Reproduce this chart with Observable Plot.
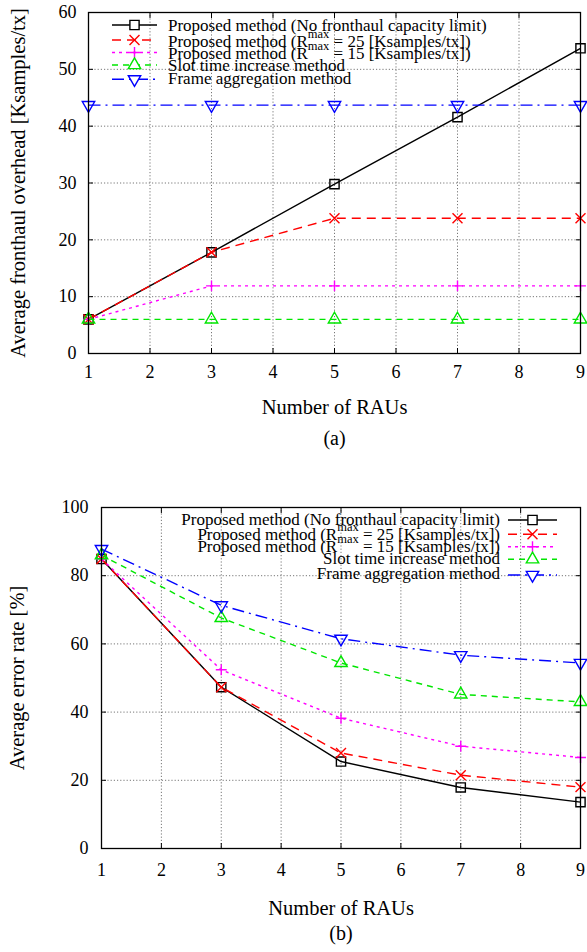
<!DOCTYPE html>
<html><head><meta charset="utf-8">
<script src="https://cdn.jsdelivr.net/npm/d3@7"></script>
<script src="https://cdn.jsdelivr.net/npm/@observablehq/plot@0.6"></script>
<style>
body{margin:0;background:#fff;}
#wrap{width:587px;}
#wrap svg{display:block;}
</style></head><body><div id="wrap"></div>
<script>
// ---- data ----
const raus = [1, 3, 5, 7, 9];
const xTicks = [1, 2, 3, 4, 5, 6, 7, 8, 9];
const overheadTicks = [0, 10, 20, 30, 40, 50, 60];
const errorTicks = [0, 20, 40, 60, 80, 100];

const legendLabels = [
  "Proposed method (No fronthaul capacity limit)",
  "Proposed method (R^{max} = 25 [Ksamples/tx])",
  "Proposed method (R^{max} = 15 [Ksamples/tx])",
  "Slot time increase method",
  "Frame aggregation method"
];

// (a) Average fronthaul overhead [Ksamples/tx]
const overheadNoLimit = [6.0, 17.8, 29.8, 41.6, 53.7];
const overheadR25     = [6.0, 17.8, 23.8, 23.8, 23.8];
const overheadR15     = [6.0, 11.9, 11.9, 11.9, 11.9];
const overheadSlot    = [6.0, 6.0, 6.0, 6.0, 6.0];
const overheadFrame   = [43.7, 43.7, 43.7, 43.7, 43.7];

// (b) Average error rate [%]
const errorNoLimit = [84.9, 47.3, 25.5, 17.9, 13.6];
const errorR25     = [84.9, 47.3, 28.0, 21.5, 18.0];
const errorR15     = [84.9, 52.4, 38.2, 30.0, 26.7];
const errorSlot    = [86.0, 67.6, 54.4, 45.2, 43.0];
const errorFrame   = [87.8, 71.3, 61.5, 56.7, 54.4];

// ---- styles ----
const FONT = '"Liberation Serif","DejaVu Serif","Times New Roman",serif';
const styles = [
  {color: "#000000", dash: null,        symbol: "square",   r: 5.2, rotate: 0},
  {color: "#ff0000", dash: "9,6",       symbol: "times",    r: 4.6, rotate: 0},
  {color: "#ff00ff", dash: "3,4",       symbol: "plus",     r: 3.6, rotate: 0},
  {color: "#00e600", dash: "6,5",       symbol: "triangle", r: 4.6, rotate: 0},
  {color: "#0000ff", dash: "12,5,2,5",  symbol: "triangle", r: 4.6, rotate: 180}
];
const d3Symbols = {square: d3.symbolSquare, times: d3.symbolTimes, plus: d3.symbolPlus, triangle: d3.symbolTriangle};

function rows(seriesValues) {
  return seriesValues.map(vals => raus.map((x, i) => ({x, y: vals[i]})));
}

function seriesMarks(series) {
  const out = [];
  series.forEach((data, s) => {
    const st = styles[s];
    out.push(Plot.line(data, {x: "x", y: "y", stroke: st.color, strokeWidth: 1.4,
      strokeDasharray: st.dash, strokeLinecap: "butt"}));
    out.push(Plot.dot(data, {x: "x", y: "y", symbol: st.symbol, r: st.r, stroke: st.color,
      fill: "none", strokeWidth: 1.4, rotate: st.rotate}));
  });
  return out;
}

function makeChart(cfg) {
  const tickStyle = {stroke: "black", strokeWidth: 1};
  const chart = Plot.plot({
    width: 587, height: 476,
    marginLeft: cfg.marginLeft, marginRight: 7, marginTop: cfg.marginTop, marginBottom: cfg.marginBottom,
    x: {domain: [1, 9]},
    y: {domain: cfg.yDomain},
    style: {fontFamily: FONT, fontSize: "18px", color: "black", background: "white", overflow: "visible"},
    marks: [
      Plot.gridX(xTicks, {stroke: "#777", strokeOpacity: 1, strokeDasharray: "1.2,2"}),
      Plot.gridY(cfg.yTicks, {stroke: "#777", strokeOpacity: 1, strokeDasharray: "1.2,2"}),
      Plot.axisX(xTicks, {anchor: "bottom", tickSize: 0, tickPadding: cfg.xTickPad, fontSize: 18, label: null}),
      Plot.axisX(xTicks, {anchor: "bottom", tickSize: -5, tickFormat: () => "", label: null, ...tickStyle}),
      Plot.axisX(xTicks, {anchor: "top", tickSize: -5, tickFormat: () => "", label: null, ...tickStyle}),
      Plot.axisY(cfg.yTicks, {anchor: "left", tickSize: 0, tickPadding: cfg.yTickPad, fontSize: 18, label: null}),
      Plot.axisY(cfg.yTicks, {anchor: "left", tickSize: -5, tickFormat: () => "", label: null, ...tickStyle}),
      Plot.axisY(cfg.yTicks, {anchor: "right", tickSize: -5, tickFormat: () => "", label: null, ...tickStyle}),
      ...seriesMarks(cfg.series),
      Plot.frame({stroke: "black", strokeWidth: 1.3}),
      Plot.text(["Number of RAUs"], {frameAnchor: "bottom", dy: cfg.xLabelDy, lineAnchor: "middle", fontSize: 20.5, text: d => d}),
      Plot.text([cfg.caption], {frameAnchor: "bottom", dy: 85, lineAnchor: "middle", fontSize: 20, text: d => d}),
      Plot.text([cfg.yLabel], {frameAnchor: "left", textAnchor: "middle", dx: cfg.yLabelDx, rotate: -90, lineAnchor: "middle", fontSize: 20.5, text: d => d})
    ]
  });
  drawLegend(chart, cfg.legend);
  return chart;
}

function drawLegend(svg, L) {
  const g = d3.select(svg).append("g").attr("font-family", FONT).attr("font-size", 17).attr("fill", "black");
  legendLabels.forEach((lab, i) => {
    const st = styles[i];
    const y = L.rowsY[i];
    g.append("line").attr("x1", L.lineX1).attr("x2", L.lineX2).attr("y1", y).attr("y2", y)
      .attr("stroke", st.color).attr("stroke-width", 1.4)
      .attr("stroke-dasharray", st.dash).attr("stroke-linecap", "butt");
    g.append("path").attr("d", d3.symbol(d3Symbols[st.symbol], Math.PI * st.r * st.r)())
      .attr("transform", `translate(${L.markX},${y}) rotate(${st.rotate})`)
      .attr("fill", "white").attr("stroke", st.color).attr("stroke-width", 1.4);
    const t = g.append("text").attr("x", L.textX).attr("y", L.textY[i]).attr("text-anchor", L.anchor);
    const m = lab.match(/^(.*)\^\{(.*?)\}(.*)$/);
    if (m) {
      t.append("tspan").text(m[1]);
      t.append("tspan").attr("dy", -9).attr("font-size", 12.5).text(m[2]);
      t.append("tspan").attr("dy", 9).text(m[3]);
    } else {
      t.text(lab);
    }
  });
}

const wrap = document.getElementById("wrap");
wrap.appendChild(makeChart({
  series: rows([overheadNoLimit, overheadR25, overheadR15, overheadSlot, overheadFrame]),
  yDomain: [0, 60], yTicks: overheadTicks,
  yLabel: "Average fronthaul overhead [Ksamples/tx]",
  caption: "(a)",
  marginLeft: 88, marginTop: 12, marginBottom: 123,
  xTickPad: 12, yTickPad: 12, xLabelDy: 54, yLabelDx: -70,
  legend: {anchor: "start", textX: 168, lineX1: 112, lineX2: 157, markX: 134.5,
    rowsY: [25, 40, 52.5, 65, 79.3], textY: [30.5, 46.5, 59, 71, 83.5]}
}));
wrap.appendChild(makeChart({
  series: rows([errorNoLimit, errorR25, errorR15, errorSlot, errorFrame]),
  yDomain: [0, 100], yTicks: errorTicks,
  yLabel: "Average error rate [%]",
  caption: "(b)",
  marginLeft: 101, marginTop: 31, marginBottom: 104,
  xTickPad: 15, yTickPad: 13, xLabelDy: 60, yLabelDx: -84,
  legend: {anchor: "end", textX: 500, lineX1: 508, lineX2: 557, markX: 532.5,
    rowsY: [44, 58.3, 70.7, 83.3, 99], textY: [48.5, 64, 75.7, 88.3, 103]}
}));
</script>
</body></html>
